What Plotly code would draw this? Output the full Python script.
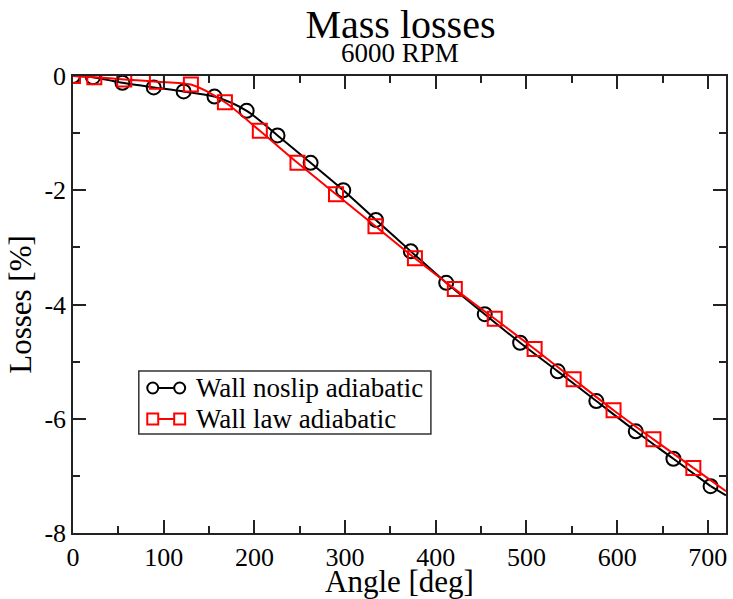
import plotly.graph_objects as go

# Sampled crank angles [deg] and mass losses [%] for the two wall treatments
angle_noslip = [0, 22, 54.5, 89, 122, 156, 191.5, 225.5, 262, 298, 334, 372.5,
                411.5, 454, 493, 534.5, 577, 620.5, 662, 703]
loss_noslip = [0.0, -0.02, -0.12, -0.20, -0.27, -0.36, -0.61, -1.04, -1.52, -2.00,
               -2.52, -3.07, -3.62, -4.17, -4.67, -5.17, -5.69, -6.22, -6.70, -7.18]

angle_walllaw = [0, 23.5, 56.5, 92.5, 130, 167.5, 206, 247.5, 290, 333.5, 377,
                 421, 465, 509, 552, 596, 640, 684]
loss_walllaw = [0.0, -0.02, -0.06, -0.10, -0.15, -0.46, -0.96, -1.52, -2.07, -2.63,
                -3.19, -3.73, -4.25, -4.78, -5.31, -5.85, -6.36, -6.86]

# End of cycle values (curves run on to 720 deg)
end_angle = 720
end_noslip = -7.34
end_walllaw = -7.27

x_ticks = [0, 100, 200, 300, 400, 500, 600, 700]
y_ticks = [0, -2, -4, -6, -8]

FONT = "Times New Roman"

# Plot area in pixels (used to place the boxed legend in paper units)
W, H = 733, 599
ML, MR, MT, MB = 73, 5, 76, 66
PW, PH = W - ML - MR, H - MT - MB


def px(x):
    return (x - ML) / PW


def py(y):
    return (H - MB - y) / PH


fig = go.Figure()

series = [
    ("Wall noslip adiabatic", angle_noslip, loss_noslip, end_noslip, "black", "circle-open"),
    ("Wall law adiabatic", angle_walllaw, loss_walllaw, end_walllaw, "red", "square-open"),
]

for name, xs, ys, yend, color, symbol in series:
    fig.add_trace(go.Scatter(
        x=xs, y=ys, name=name, mode="lines+markers", showlegend=False,
        line=dict(color=color, width=2, shape="spline", smoothing=0.8),
        marker=dict(symbol=symbol, size=14, color=color, line=dict(color=color, width=2)),
    ))
    fig.add_trace(go.Scatter(
        x=[xs[-1], end_angle], y=[ys[-1], yend], mode="lines", showlegend=False,
        line=dict(color=color, width=2), hoverinfo="skip",
    ))

axis_common = dict(
    showgrid=False, zeroline=False, showline=True, linecolor="#222", linewidth=1.5,
    mirror="allticks", ticks="inside", ticklen=13, tickwidth=1.5, tickcolor="#222",
    tickfont=dict(family=FONT, size=26, color="black"),
)

fig.update_xaxes(
    range=[0, 720], tickvals=x_ticks, ticktext=[str(v) for v in x_ticks],
    minor=dict(dtick=50, tick0=0, ticks="inside", ticklen=7, tickwidth=1.5, tickcolor="#222"),
    title=dict(text="Angle [deg]", font=dict(family=FONT, size=31, color="black"), standoff=0),
    **axis_common,
)
fig.update_yaxes(
    range=[-8, 0], tickvals=y_ticks, ticktext=[str(v) for v in y_ticks],
    minor=dict(dtick=1, tick0=0, ticks="inside", ticklen=7, tickwidth=1.5, tickcolor="#222"),
    title=dict(text="Losses [%]", font=dict(family=FONT, size=31, color="black"), standoff=4),
    **axis_common,
)

# Boxed legend: frame, line-with-end-markers glyphs and labels
shapes = [dict(type="rect", xref="paper", yref="paper",
               x0=px(139), x1=px(432), y0=py(434), y1=py(371),
               line=dict(color="#333", width=1.5), fillcolor="white", layer="above")]
annotations = []
rows = [(388, "black", "circle"), (419, "red", "square")]
for (name, *_rest), (yc, color, kind) in zip(series, rows):
    shapes.append(dict(type="line", xref="paper", yref="paper",
                       x0=px(153), x1=px(180), y0=py(yc), y1=py(yc),
                       line=dict(color=color, width=2), layer="above"))
    for cx in (153, 180):
        r = 5.5
        shapes.append(dict(type="circle" if kind == "circle" else "rect",
                           xref="paper", yref="paper",
                           x0=px(cx - r), x1=px(cx + r), y0=py(yc + r), y1=py(yc - r),
                           line=dict(color=color, width=2), fillcolor="white", layer="above"))
    annotations.append(dict(text=name, xref="paper", yref="paper",
                            x=px(194), y=py(yc), xanchor="left", yanchor="middle",
                            showarrow=False,
                            font=dict(family=FONT, size=27, color="black")))

annotations.append(dict(text="6000 RPM", xref="paper", yref="paper",
                        x=0.5, y=py(53), xanchor="center", yanchor="middle",
                        showarrow=False, font=dict(family=FONT, size=27, color="black")))

fig.update_layout(
    width=W, height=H,
    margin=dict(l=ML, r=MR, t=MT, b=MB),
    paper_bgcolor="white", plot_bgcolor="white",
    title=dict(text="Mass losses", x=(ML + W - MR) / 2 / W, xanchor="center",
               y=1 - 24 / H, yanchor="middle",
               font=dict(family=FONT, size=40, color="black")),
    shapes=shapes,
    annotations=annotations,
    showlegend=False,
)

fig.write_html("out.html")
